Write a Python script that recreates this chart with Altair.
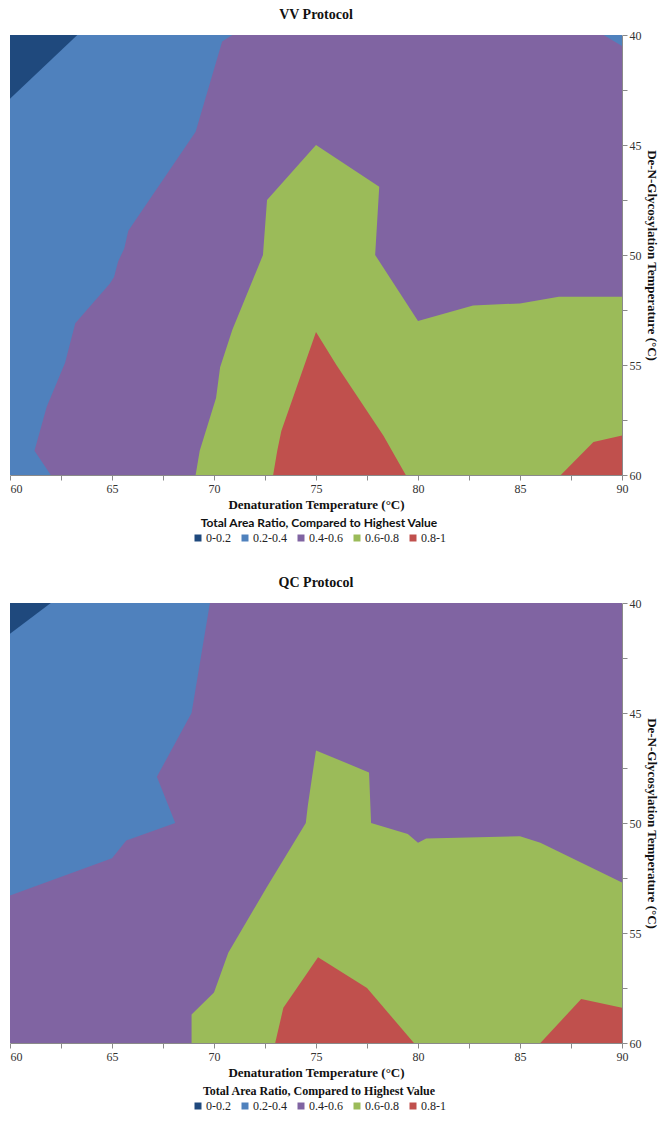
import altair as alt
import pandas as pd

LEVELS = ["0-0.2", "0.2-0.4", "0.4-0.6", "0.6-0.8", "0.8-1"]
COLORS = ["#1F497D", "#4F81BD", "#8064A2", "#9BBB59", "#C0504D"]
X_TICKS = [60, 62.5, 65, 67.5, 70, 72.5, 75, 77.5, 80, 82.5, 85, 87.5, 90]
Y_TICKS = [40, 42.5, 45, 47.5, 50, 52.5, 55, 57.5, 60]

# ---- VV Protocol: regions where ratio >= level (painted in order) ----
vv_l0_x = [60, 90, 90, 60]
vv_l0_y = [40, 40, 60, 60]
vv_l1_x = [63.3, 90, 90, 60, 60]
vv_l1_y = [40, 40, 60, 60, 42.9]
vv_l2_x = [70.9, 70.4, 69.1, 65.8, 65.6, 65.3, 65.1, 64.9, 63.2, 62.7, 61.8, 61.2, 62.0, 90, 90, 89.1]
vv_l2_y = [40, 40.3, 44.4, 48.9, 49.7, 50.3, 51.0, 51.3, 53.1, 54.9, 56.9, 58.9, 60, 60, 40.5, 40]
vv_l3_x = [69.1, 69.3, 70.1, 70.3, 70.9, 72.4, 72.6, 75.0, 78.1, 77.9, 80.0, 82.7, 85.0, 86.9, 90, 90]
vv_l3_y = [60, 58.9, 56.5, 55.1, 53.4, 50.0, 47.5, 45.0, 46.9, 50.0, 53.0, 52.3, 52.2, 51.9, 51.9, 60]
vv_l4a_x = [72.9, 73.1, 73.3, 75.0, 76.0, 78.3, 79.4]
vv_l4a_y = [60, 58.9, 58.0, 53.5, 55.0, 58.2, 60]
vv_l4b_x = [87.0, 88.6, 90, 90]
vv_l4b_y = [60, 58.5, 58.2, 60]

# ---- QC Protocol ----
qc_l0_x = [60, 90, 90, 60]
qc_l0_y = [40, 40, 60, 60]
qc_l1_x = [62.0, 90, 90, 60, 60]
qc_l1_y = [40, 40, 60, 60, 41.4]
qc_l2_x = [69.8, 68.9, 67.2, 68.1, 65.7, 65.0, 60, 60, 90, 90]
qc_l2_y = [40, 45.0, 47.9, 50.0, 50.8, 51.6, 53.3, 60, 60, 40]
qc_l3_x = [68.9, 68.9, 70.0, 70.7, 72.6, 74.5, 74.6, 75.0, 77.6, 77.7, 79.5, 80.0, 80.4, 85.0, 86.0, 90, 90]
qc_l3_y = [60, 58.7, 57.7, 55.9, 52.9, 50.0, 49.2, 46.7, 47.7, 50.0, 50.5, 50.9, 50.7, 50.6, 50.9, 52.7, 60]
qc_l4a_x = [73.0, 73.4, 75.1, 77.5, 79.8]
qc_l4a_y = [60, 58.4, 56.1, 57.5, 60]
qc_l4b_x = [86.0, 88.0, 90, 90]
qc_l4b_y = [60, 58.0, 58.4, 60]

VV_POLYS = [(vv_l0_x, vv_l0_y, 0), (vv_l1_x, vv_l1_y, 1), (vv_l2_x, vv_l2_y, 2),
            (vv_l3_x, vv_l3_y, 3), (vv_l4a_x, vv_l4a_y, 4), (vv_l4b_x, vv_l4b_y, 4)]
QC_POLYS = [(qc_l0_x, qc_l0_y, 0), (qc_l1_x, qc_l1_y, 1), (qc_l2_x, qc_l2_y, 2),
            (qc_l3_x, qc_l3_y, 3), (qc_l4a_x, qc_l4a_y, 4), (qc_l4b_x, qc_l4b_y, 4)]

SERIF = "Liberation Serif"
W = 612
H = 440


def panel(title, polys, legend_title_font):
    x_axis = alt.Axis(
        values=X_TICKS, labelExpr="datum.value % 5 == 0 ? datum.label : ''",
        title="Denaturation Temperature (\u00b0C)", grid=False,
        tickColor="#8a8a8a", domainColor="#8a8a8a", tickSize=5,
        labelFont=SERIF, labelFontSize=12, labelColor="#333333", labelPadding=3,
        labelAlign={"condition": {"test": "datum.value == 60", "value": "left"}, "value": "center"},
        titleFont=SERIF, titleFontSize=13, titleFontWeight="bold", titleColor="#111111",
        titlePadding=4,
    )
    y_axis = alt.Axis(
        orient="right", values=Y_TICKS, labelExpr="datum.value % 5 == 0 ? datum.label : ''",
        title="De-N-Glycosylation Temperature (\u00b0C)", grid=False,
        tickColor="#8a8a8a", domainColor="#8a8a8a", tickSize=5,
        labelFont=SERIF, labelFontSize=12, labelColor="#333333", labelPadding=2,
        titleFont=SERIF, titleFontSize=13, titleFontWeight="bold", titleColor="#111111",
        titlePadding=3,
    )
    legend = alt.Legend(
        title="Total Area Ratio, Compared to Highest Value", orient="none",
        legendX=182, legendY=H + 43, direction="horizontal", titleAnchor="middle",
        symbolType="square", symbolSize=49, symbolStrokeWidth=0,
        labelFont=SERIF, labelFontSize=12, labelColor="#222222", labelOffset=2,
        columnPadding=8, titleFont=legend_title_font, titleFontSize=12,
        titleFontWeight="bold", titleColor="#111111", titlePadding=2, titleLimit=500,
    )
    layers = []
    for xs, ys, lev in polys:
        df = pd.DataFrame({"x": xs, "y": ys, "level": LEVELS[lev], "i": list(range(len(xs)))})
        layers.append(
            alt.Chart(df).mark_line(filled=True, interpolate="linear-closed").encode(
                x=alt.X("x:Q", scale=alt.Scale(domain=[60, 90], nice=False, zero=False), axis=x_axis),
                y=alt.Y("y:Q", scale=alt.Scale(domain=[40, 60], reverse=True, nice=False, zero=False), axis=y_axis),
                order=alt.Order("i:Q"),
                color=alt.Color("level:N", scale=alt.Scale(domain=LEVELS, range=COLORS), legend=legend),
            )
        )
    return alt.layer(*layers).properties(
        width=W, height=H,
        title=alt.TitleParams(title, font=SERIF, fontSize=14, fontWeight="bold",
                              color="#111111", anchor="middle", frame="group", offset=7),
    )


top = panel("VV Protocol", VV_POLYS, "Lato")
bottom = panel("QC Protocol", QC_POLYS, SERIF)

chart = alt.vconcat(top, bottom, spacing=32).resolve_scale(color="independent").resolve_legend(
    color="independent"
).properties(padding={"left": 1, "top": 0, "right": 5, "bottom": 0}).configure_view(stroke=None)

chart.save("out.html", embed_options={"renderer": "svg", "actions": False})
